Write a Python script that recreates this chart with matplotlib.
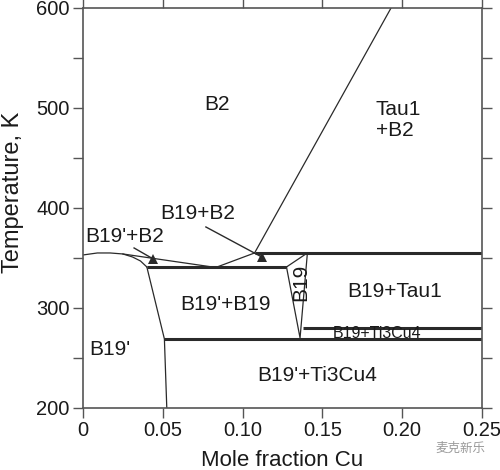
import matplotlib
matplotlib.use("Agg")
import matplotlib.pyplot as plt

plt.rcParams['font.family'] = ['Liberation Sans', 'DejaVu Sans']

# ---- data (mole fraction Cu, temperature K) ----
# B19' / B19'+B2 boundary (curved)
solvus_x = [0.0, 0.009, 0.017, 0.025, 0.031, 0.036, 0.040]
solvus_T = [353, 355, 355, 354, 351, 347, 341]
# upper B19'+B2 boundary down to the eutectoid-like point
b19p_b2_x = [0.025, 0.081]
b19p_b2_T = [354, 341]
# B19+B2 lower boundary
b19_b2_x = [0.084, 0.1075]
b19_b2_T = [341, 355]
# B2 / Tau1+B2 boundary
b2_tau_x = [0.1075, 0.193]
b2_tau_T = [355, 600]
# B19' / B19'+B19 boundary and B19'/B19'+Ti3Cu4
b19p_left_x = [0.040, 0.051, 0.0525]
b19p_left_T = [341, 269, 200]
# B19 single-phase region outline
b19_x = [0.1275, 0.1406, 0.136, 0.1275]
b19_T = [341, 355, 270, 341]

# thick horizontal invariant lines: (x_start, x_end, T)
inv_x0 = [0.040, 0.1075, 0.051, 0.138]
inv_x1 = [0.1275, 0.25, 0.25, 0.25]
inv_T = [341, 355, 269, 280]

# arrow markers
arrow_x0 = [0.032, 0.077]
arrow_T0 = [360, 381]
arrow_x1 = [0.044, 0.112]
arrow_T1 = [349, 351]

# phase labels
labels = ["B2", "Tau1\n+B2", "B19+B2", "B19'+B2", "B19'+B19", "B19",
          "B19+Tau1", "B19+Ti3Cu4", "B19'", "B19'+Ti3Cu4"]
label_x = [0.084, 0.1835, 0.072, 0.026, 0.089, 0.1363, 0.195, 0.184, 0.017, 0.147]
label_T = [503, 488, 394, 371, 303, 326, 316, 274, 258, 232]

xticks = [0, 0.05, 0.10, 0.15, 0.20, 0.25]
xtick_labels = ["0", "0.05", "0.10", "0.15", "0.20", "0.25"]
yticks = [200, 300, 400, 500, 600]
yminor = [250, 350, 450, 550]

# ---- figure ----
fig = plt.figure(figsize=(5, 4.7), dpi=100)
ax = fig.add_axes([0.166, 0.132, 0.798, 0.851])

lc = '#2a2a2a'
thin = 0.9
thick = 2.2

ax.plot(solvus_x, solvus_T, color=lc, lw=thin)
ax.plot(b19p_b2_x, b19p_b2_T, color=lc, lw=thin)
ax.plot(b19_b2_x, b19_b2_T, color=lc, lw=thin)
ax.plot(b2_tau_x, b2_tau_T, color=lc, lw=thin)
ax.plot(b19p_left_x, b19p_left_T, color=lc, lw=thin)
ax.plot(b19_x, b19_T, color=lc, lw=thin)
for x0, x1, t in zip(inv_x0, inv_x1, inv_T):
    ax.plot([x0, x1], [t, t], color=lc, lw=thick, solid_capstyle='butt')

for x0, t0, x1, t1 in zip(arrow_x0, arrow_T0, arrow_x1, arrow_T1):
    ax.plot([x0, x1], [t0, t1], color=lc, lw=1.0)
    ax.plot([x1], [t1], marker='^', color=lc, markersize=7, markeredgewidth=0)

fs = 15
for lab, x, t in zip(labels, label_x, label_T):
    kw = dict(ha='center', va='center', fontsize=fs, color='#1a1a1a')
    if lab == "B19":
        kw['rotation'] = 90
    if lab == "B19+Ti3Cu4":
        kw['fontsize'] = 11.5
    if lab.startswith("Tau1"):
        kw['ha'] = 'left'
        kw['linespacing'] = 1.15
    ax.text(x, t, lab, **kw)

ax.set_xlim(0, 0.25)
ax.set_ylim(200, 600)
ax.set_xticks(xticks)
ax.set_xticklabels(xtick_labels)
ax.set_yticks(yticks)
ax.set_yticks(yminor, minor=True)

for s in ax.spines.values():
    s.set_color('#555555')
    s.set_linewidth(1.2)
ax.tick_params(which='both', direction='out', top=True, right=True,
               color='#555555', width=1.0, labelsize=14.5, labelcolor='#1a1a1a')
ax.tick_params(which='major', length=7.5)
ax.tick_params(which='minor', length=7.5)
ax.tick_params(axis='x', pad=2)
ax.tick_params(axis='y', pad=2)

ax.set_xlabel("Mole fraction Cu", fontsize=16, color='#1a1a1a')
ax.set_ylabel("Temperature, K", fontsize=17, color='#1a1a1a')
ax.xaxis.set_label_coords(0.5, -0.106)
ax.yaxis.set_label_coords(-0.147, 0.54)

fig.text(0.92, 0.046, "麦克新乐", family=['Noto Sans CJK SC', 'DejaVu Sans'],
         fontsize=9, color='#9a9a9a', ha='center', va='center')

fig.savefig("out.png", dpi=100)
